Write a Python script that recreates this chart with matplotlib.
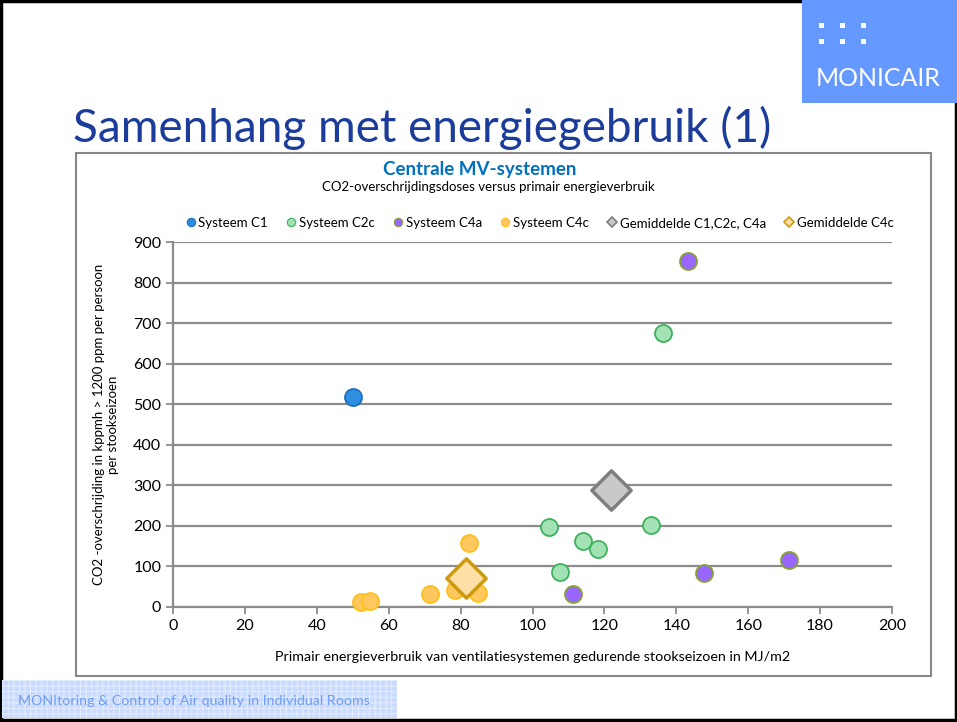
import matplotlib.pyplot as plt
from matplotlib.patches import Rectangle
from matplotlib.lines import Line2D

plt.rcParams['font.family'] = ['Lato', 'DejaVu Sans']
plt.rcParams['hatch.linewidth'] = 0.6

# data
c1_x = [50.0]
c1_y = [519]
c2c_x = [104.6, 114.0, 118.2, 107.6, 133.0, 136.3]
c2c_y = [197, 163, 142, 86, 201, 675]
c4a_x = [143.3, 111.3, 147.7, 171.4]
c4a_y = [853, 32, 84, 117]
c4c_x = [82.3, 52.4, 54.8, 71.5, 78.4, 84.9]
c4c_y = [159, 13, 14, 32, 42, 35]
gem_x = [121.8]
gem_y = [289]
gem4c_x = [81.5]
gem4c_y = [72]

series = [
    ('Systeem C1', c1_x, c1_y, 'o', '#2E8FE0', '#1E6FB8'),
    ('Systeem C2c', c2c_x, c2c_y, 'o', '#A2E2B4', '#3DB35C'),
    ('Systeem C4a', c4a_x, c4a_y, 'o', '#9966FF', '#86A33A'),
    ('Systeem C4c', c4c_x, c4c_y, 'o', '#FFC85E', '#FFBF1A'),
    ('Gemiddelde C1,C2c, C4a', gem_x, gem_y, 'D', '#C9C9C9', '#7F7F7F'),
    ('Gemiddelde C4c', gem4c_x, gem4c_y, 'D', '#FFDFA6', '#CC9A10'),
]

W, H = 957, 722
fig = plt.figure(figsize=(W / 100, H / 100), dpi=100)

def px(x0, y0, x1, y1):
    return (x0 / W, 1 - y1 / H), (x1 - x0) / W, (y1 - y0) / H

# slide border
xy, w, h = px(1, 1, 956, 720)
fig.patches.append(Rectangle(xy, w, h, transform=fig.transFigure, fill=False,
                             edgecolor='black', lw=2.5, zorder=0))

# logo block
xy, w, h = px(802, 0, 957, 103)
fig.patches.append(Rectangle(xy, w, h, transform=fig.transFigure,
                             facecolor='#6699FF', edgecolor='none', zorder=1))
for yy in [23, 39]:
    for xx in [819, 840, 861]:
        xy, w, h = px(xx, yy, xx + 5, yy + 5)
        fig.patches.append(Rectangle(xy, w, h, transform=fig.transFigure,
                                     facecolor='white', edgecolor='none', zorder=2))
fig.text(816 / W, 1 - 78 / H, 'MONICAIR', color='white', fontsize=18,
         va='center', ha='left')

# bottom banner
xy, w, h = px(2, 680, 397, 718)
fig.patches.append(Rectangle(xy, w, h, transform=fig.transFigure,
                             facecolor='#CADBFF', edgecolor='#E8F0FF', lw=0,
                             hatch='+++', zorder=1))
fig.text(18 / W, 1 - 701 / H, 'MONItoring & Control of Air quality in Individual Rooms',
         color='#6F9CF5', fontsize=10.3, va='center', ha='left', zorder=2)

# slide title, partly hidden behind the chart box
fig.text(73 / W, 1 - 142 / H, 'Samenhang met energiegebruik (1)', color='#1B3C9A',
         fontsize=33, va='baseline', ha='left', zorder=1)

# chart box
xy, w, h = px(76, 153, 931, 676)
fig.patches.append(Rectangle(xy, w, h, transform=fig.transFigure, facecolor='white',
                             edgecolor='#888888', lw=1.5, zorder=3))

fig.text(480 / W, 1 - 170 / H, 'Centrale MV-systemen', color='#0070C0', fontsize=13.5,
         fontweight='bold', ha='center', va='center', zorder=4)
fig.text(488 / W, 1 - 187 / H, 'CO2-overschrijdingsdoses versus primair energieverbruik',
         fontsize=9.5, ha='center', va='center', zorder=4)

ax = fig.add_axes([173 / W, 1 - 607 / H, (892 - 173) / W, (607 - 242) / H], zorder=5)
ax.patch.set_alpha(0)

for name, xs, ys, mk, fc, ec in series:
    size = 150 if mk == 'o' else 400
    lw = 1.3 if mk == 'o' else 2.5
    ax.scatter(xs, ys, s=size, marker=mk, facecolor=fc, edgecolor=ec,
               linewidths=lw, zorder=3, clip_on=False)

ax.set_xlim(0, 200)
ax.set_ylim(0, 900)
ax.set_xticks(range(0, 201, 20))
ax.set_yticks(range(0, 901, 100))
ax.grid(axis='y', color='#8C8C8C', lw=1.6)
ax.set_axisbelow(True)
for s in ['top', 'right']:
    ax.spines[s].set_visible(False)
for s in ['left', 'bottom']:
    ax.spines[s].set_color('#8C8C8C')
    ax.spines[s].set_linewidth(1.6)
ax.tick_params(colors='#8C8C8C', width=1.3, length=5, labelsize=11.5, labelcolor='black')

ax.set_xlabel('Primair energieverbruik van ventilatiesystemen gedurende stookseizoen in MJ/m2',
              fontsize=10.3, labelpad=13)
ax.set_ylabel('CO2 -overschrijding in kppmh > 1200 ppm per persoon\nper stookseizoen',
              fontsize=9.5, labelpad=10)

handles = [Line2D([], [], ls='none', marker=mk, markersize=6 if mk == 'o' else 5,
                  markerfacecolor=fc, markeredgecolor=ec, markeredgewidth=1.2 if mk == 'D' else 0.8)
           for name, xs, ys, mk, fc, ec in series]
labels = [s[0] for s in series]
leg = fig.legend(handles, labels, loc='center', bbox_to_anchor=(539 / W, 1 - 223 / H),
                 ncol=6, frameon=False, fontsize=9.5, handletextpad=0.1,
                 columnspacing=1.25, handlelength=1.0)
leg.set_zorder(6)

fig.savefig('out.png', dpi=100)
